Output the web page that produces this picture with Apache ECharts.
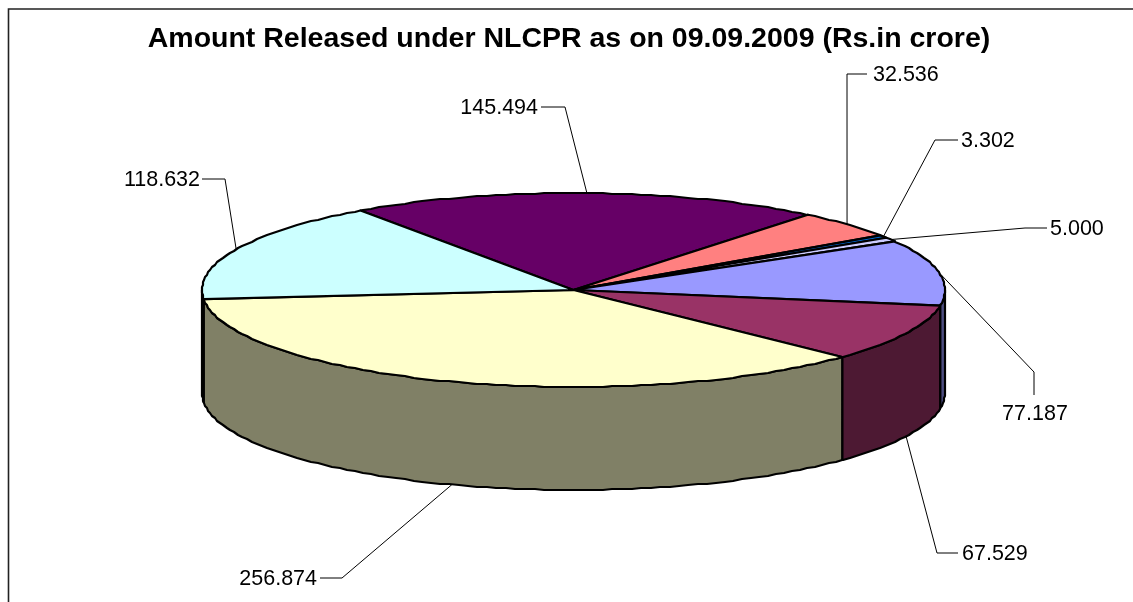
<!DOCTYPE html>
<html>
<head>
<meta charset="utf-8">
<title>Amount Released under NLCPR</title>
<script src="https://cdn.jsdelivr.net/npm/echarts@6/dist/echarts.min.js"></script>
<style>
html, body { margin: 0; padding: 0; background: #fff; }
#chart { width: 1133px; height: 602px; }
</style>
</head>
<body>
<div id="chart"></div>
<script>
var chartTitle = 'Amount Released under NLCPR as on 09.09.2009 (Rs.in crore)';

// slices, clockwise from the purple one
var sliceValues = [145.494, 32.536, 3.302, 5.000, 77.187, 67.529, 256.874, 118.632];
var sliceLabels = ['145.494', '32.536', '3.302', '5.000', '77.187', '67.529', '256.874', '118.632'];
var sliceColors = ['#660066', '#FF8080', '#0066CC', '#CCCCFF', '#9999FF', '#993366', '#FFFFCC', '#CCFFFF'];
var sideColors = ['#330033', '#804040', '#003366', '#666680', '#4D4D80', '#4D1933', '#808066', '#668080'];

// pie geometry
var cx = 573.5, cy = 290, rx = 371.5, ry = 97, depth = 103;
var firstAngle = -35;

// leader lines: elbow, then where the line stops next to the text
var leaderElbows = [[565, 107], [847, 74], [935, 140], [1025, 228], [1034, 372], [937, 553], [342, 578], [225, 179]];
var leaderEnds = [[541, 107], [867, 74], [958, 140], [1047, 228], [1034, 395], [958, 553], [320, 578], [202, 179]];
var labelPos = [[538, 108, 'right'], [873, 75, 'left'], [961, 141, 'left'], [1050, 229, 'left'], [1035, 414, 'center'], [962, 554, 'left'], [317, 579, 'right'], [200, 180, 'right']];

var total = sliceValues.reduce(function (a, b) { return a + b; }, 0);
var startAngles = [];
var sum = 0;
for (var i = 0; i < sliceValues.length; i++) {
    startAngles.push(firstAngle + sum / total * 360);
    sum += sliceValues[i];
}

function rimPoint(deg, dy) {
    var t = deg * Math.PI / 180;
    return [cx + rx * Math.sin(t), cy - ry * Math.cos(t) + (dy || 0)];
}

// the source picture has a slightly stepped rim, so snap the arc to whole pixels
function snapped(p) {
    return [Math.round(p[0]), Math.round(p[1])];
}

function arcPoints(from, to, dy) {
    var pts = [rimPoint(from, dy)];
    var step = 1.5;
    var first = Math.ceil(Math.min(from, to) / step) * step;
    var inner = [];
    for (var d = first; d < Math.max(from, to); d += step) {
        if (d > Math.min(from, to)) {
            inner.push(snapped(rimPoint(d, dy)));
        }
    }
    if (to < from) {
        inner.reverse();
    }
    return pts.concat(inner, [rimPoint(to, dy)]);
}

function sliceRange(idx) {
    var a = startAngles[idx];
    return [a, a + sliceValues[idx] / total * 360];
}

function renderSide(params, api) {
    var idx = api.value(0);
    var r = sliceRange(idx);
    // only the front half of the rim shows a wall (90..270 degrees)
    var from = Math.max(r[0], 90), to = Math.min(r[1], 270);
    if (to <= from) {
        return null;
    }
    var pts = arcPoints(from, to, 0).concat(arcPoints(to, from, depth));
    return {
        type: 'polygon',
        shape: { points: pts },
        style: { fill: sideColors[idx], stroke: '#000', lineWidth: 2.2, lineJoin: 'round' }
    };
}

function renderTop(params, api) {
    var idx = api.value(0);
    var r = sliceRange(idx);
    var pts = [[cx, cy]].concat(arcPoints(r[0], r[1], 0));
    return {
        type: 'polygon',
        shape: { points: pts },
        style: { fill: sliceColors[idx], stroke: '#000', lineWidth: 2.2, lineJoin: 'round' }
    };
}

function renderLeader(params, api) {
    var idx = api.value(0);
    var r = sliceRange(idx);
    var mid = (r[0] + r[1]) / 2;
    var norm = (mid + 360) % 360;
    // leaders start on the rim of the wall when the slice midpoint faces us
    var start = rimPoint(mid, norm > 90 && norm < 270 ? depth : 0);
    var lp = labelPos[idx];
    return {
        type: 'group',
        children: [{
            type: 'polyline',
            shape: { points: [start, leaderElbows[idx], leaderEnds[idx]] },
            style: { fill: null, stroke: '#000', lineWidth: 1 }
        }, {
            type: 'text',
            style: {
                x: lp[0],
                y: lp[1],
                text: sliceLabels[idx],
                fill: '#000',
                font: '21.5px "Liberation Sans"',
                textAlign: lp[2],
                textVerticalAlign: 'middle'
            }
        }]
    };
}

var seriesData = sliceValues.map(function (v, idx) { return [idx, v]; });

var myChart = echarts.init(document.getElementById('chart'));
myChart.setOption({
    animation: false,
    backgroundColor: '#fff',
    title: {
        text: chartTitle,
        left: 564,
        top: 34,
        textAlign: 'center',
        textVerticalAlign: 'middle',
        textStyle: { fontFamily: 'Liberation Sans', fontSize: 28.5, fontWeight: 'bold', color: '#000' }
    },
    graphic: [{
        type: 'polyline',
        shape: { points: [[8.5, 602], [8.5, 9], [1133, 9]] },
        style: { fill: null, stroke: '#222', lineWidth: 1.6 }
    }],
    series: [
        { type: 'custom', coordinateSystem: 'none', data: seriesData, renderItem: renderLeader, silent: true, z: 1 },
        { type: 'custom', coordinateSystem: 'none', data: seriesData, renderItem: renderSide, silent: true, z: 2 },
        { type: 'custom', coordinateSystem: 'none', data: seriesData, renderItem: renderTop, silent: true, z: 3 }
    ]
});
</script>
</body>
</html>
